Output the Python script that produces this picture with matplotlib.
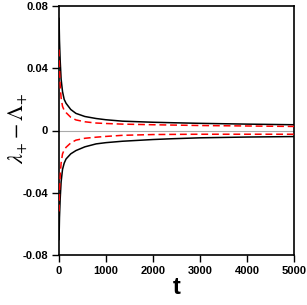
import matplotlib
matplotlib.use("Agg")
import matplotlib.pyplot as plt
import numpy as np

t = [1, 10, 25, 45, 75, 110, 150, 250, 360, 550, 790, 1000, 1350, 2000, 2400, 3000, 4000, 5000]
black_pos = [0.072, 0.058, 0.045, 0.033, 0.025, 0.020, 0.0175, 0.0135, 0.0110, 0.0090, 0.0077, 0.0069, 0.0060, 0.0053, 0.0050, 0.0046, 0.0041, 0.0037]
red_pos = [0.052, 0.040, 0.029, 0.021, 0.0155, 0.0130, 0.0115, 0.0085, 0.0068, 0.0056, 0.0048, 0.0045, 0.0041, 0.0037, 0.0035, 0.0032, 0.0029, 0.0026]
black_neg = [-0.070, -0.056, -0.044, -0.033, -0.025, -0.021, -0.0183, -0.0150, -0.0129, -0.0105, -0.0086, -0.0078, -0.0069, -0.0058, -0.0053, -0.0047, -0.0042, -0.0039]
red_neg = [-0.052, -0.040, -0.029, -0.021, -0.015, -0.0125, -0.0108, -0.0080, -0.0062, -0.0050, -0.0043, -0.0038, -0.0031, -0.0026, -0.0025, -0.0024, -0.0024, -0.0024]

xticks = [0, 1000, 2000, 3000, 4000, 5000]
yticks = [-0.08, -0.04, 0, 0.04, 0.08]
yticklabels = ["-0.08", "-0.04", "0", "0.04", "0.08"]

plt.rcParams['font.family'] = ['Liberation Sans', 'DejaVu Sans']
plt.rcParams['mathtext.fontset'] = 'stix'
fig = plt.figure(figsize=(3.07, 3.05), dpi=100)
ax = fig.add_axes([59/307, 50/305, 235/307, 249/305])

ax.axhline(0, color='#aaaaaa', lw=0.8, zorder=1)
ax.plot(t, black_pos, color='black', lw=1.1, zorder=3)
ax.plot(t, black_neg, color='black', lw=1.1, zorder=3)
ax.plot(t, red_pos, color='red', lw=1.1, ls=(0, (4.5, 2.5)), zorder=4)
ax.plot(t, red_neg, color='red', lw=1.1, ls=(0, (4.5, 2.5)), zorder=4)

ax.set_xlim(0, 5000)
ax.set_ylim(-0.08, 0.08)
ax.set_xticks(xticks)
ax.set_xticklabels([str(v) for v in xticks], fontsize=8, fontweight='bold')
ax.set_yticks(yticks)
ax.set_yticklabels(yticklabels, fontsize=8, fontweight='bold')
ax.tick_params(direction='out', length=5, width=1, pad=3)
for s in ax.spines.values():
    s.set_linewidth(1.2)

ax.set_xlabel('t', fontsize=17, fontweight='bold', labelpad=0)
fig.text(18/307, 1 - 128/305, r'$\lambda_{+}-\Lambda_{+}$', fontsize=16,
         rotation=90, ha='center', va='center')
fig.savefig('out.png', dpi=100)
